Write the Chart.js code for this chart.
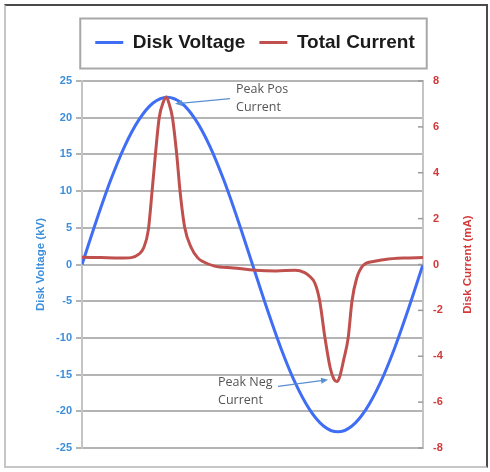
<!DOCTYPE html>
<html>
<head>
<meta charset="utf-8">
<script src="https://cdn.jsdelivr.net/npm/chart.js@4.4.0/dist/chart.umd.min.js"></script>
<style>
  html, body { margin: 0; padding: 0; background: #fff; }
  #frame {
    position: absolute; left: 4px; top: 4px; width: 480px; height: 460px;
    border-top: 2px solid #4a4a4a; border-right: 2px solid #4a4a4a;
    border-left: 2px solid #c6c6c6; border-bottom: 2px solid #c6c6c6;
  }
  #wrap { position: absolute; left: 0; top: 0; width: 490px; height: 472px; }
</style>
</head>
<body>
<div id="frame"></div>
<div id="wrap"><canvas id="myChart"></canvas></div>
<script>
// phase over one cycle (degrees) -> disk voltage (kV)
const phaseV = [0, 15, 30, 45, 60, 75, 90, 105, 120, 135, 150, 165, 180,
  195, 210, 225, 240, 255, 270, 285, 300, 315, 330, 345, 360];
const voltage = [0, 5.9, 11.4, 16.1, 19.7, 22.0, 22.8, 22.0, 19.7, 16.1, 11.4, 5.9, 0,
  -5.9, -11.4, -16.1, -19.7, -22.0, -22.8, -22.0, -19.7, -16.1, -11.4, -5.9, 0];

// phase (degrees) -> total current (mA)
const phaseI = [0, 20, 40, 52, 60, 65, 70, 74, 77.5, 81.5, 86, 89, 92, 95.5, 100, 103.5,
  108.5, 115.5, 122, 127, 140, 160, 183, 205, 225, 235, 239, 246, 251, 256.5, 262, 266,
  269, 272, 276, 281, 285, 290, 297, 309, 320, 340, 360];
const current = [0.32, 0.3, 0.28, 0.3, 0.45, 0.72, 1.5, 3.2, 4.8, 6.4, 7.1, 7.3, 7.0, 6.4, 4.8, 3.2,
  1.6, 0.72, 0.3, 0.14, -0.07, -0.15, -0.25, -0.28, -0.25, -0.35, -0.47, -0.83, -1.6, -3.2, -4.5, -5.0,
  -5.1, -4.9, -4.2, -3.2, -1.6, -0.6, -0.03, 0.14, 0.22, 0.28, 0.3];

const seriesNames = ['Disk Voltage', 'Total Current'];
const axisTitles = ['Disk Voltage (kV)', 'Disk Current (mA)'];

// callouts: text position and arrow tail/head, in (phase, kV)
const noteLines = [['Peak Pos', 'Current'], ['Peak Neg', 'Current']];
const noteAt = [[162.6, 23.8], [143.6, -16.0]];
const arrowFrom = [[156.3, 22.6], [207, -16.6]];
const arrowTo = [[98.2, 21.9], [259.8, -15.7]];

const BLUE = '#3f6ef4';
const RED = '#c0504d';
const AXIS_BLUE = '#3d8edb';
const AXIS_RED = '#d23a3a';
const GRID = '#b4b4b4';

// extra room under the legend, like the original
const legendGap = {
  id: 'legendGap',
  beforeInit(chart) {
    const lg = chart.legend;
    if (!lg) return;
    const fit = lg.fit;
    lg.fit = function () {
      fit.call(lg);
      this.height += 19;
    };
  }
};

const legendFrame = {
  id: 'legendFrame',
  afterDraw(chart) {
    const boxes = chart.legend.legendHitBoxes;
    if (!boxes || !boxes.length) return;
    const l = Math.min(...boxes.map(b => b.left));
    const r = Math.max(...boxes.map(b => b.left + b.width));
    const cy = boxes[0].top + boxes[0].height / 2;
    const ctx = chart.ctx;
    ctx.save();
    ctx.strokeStyle = '#a8a8a8';
    ctx.lineWidth = 2;
    ctx.strokeRect(l - 15, cy - 24, r - l + 27, 50);
    ctx.restore();
  }
};

const extras = {
  id: 'extras',
  afterDraw(chart) {
    const ctx = chart.ctx;
    const xs = chart.scales.x, yv = chart.scales.yV, yc = chart.scales.yC;
    ctx.save();
    // right axis title, reading upward
    ctx.fillStyle = AXIS_RED;
    ctx.font = 'bold 11.5px "Liberation Sans", Arial';
    ctx.textAlign = 'center';
    ctx.textBaseline = 'middle';
    ctx.translate(yc.right - 12, (yc.top + yc.bottom) / 2);
    ctx.rotate(-Math.PI / 2);
    ctx.fillText(axisTitles[1], 0, 0);
    ctx.restore();

    // small inward tick marks on the right axis
    ctx.save();
    ctx.strokeStyle = '#9a9a9a';
    ctx.lineWidth = 1.5;
    yc.ticks.forEach(t => {
      const y = yc.getPixelForValue(t.value);
      ctx.beginPath();
      ctx.moveTo(yc.left - 5, y);
      ctx.lineTo(yc.left, y);
      ctx.stroke();
    });
    ctx.restore();

    // callouts
    ctx.save();
    ctx.font = '12.5px "Open Sans", sans-serif';
    ctx.textAlign = 'left';
    ctx.textBaseline = 'middle';
    noteLines.forEach((lines, i) => {
      const x = xs.getPixelForValue(noteAt[i][0]);
      const y = yv.getPixelForValue(noteAt[i][1]);
      ctx.fillStyle = '#555';
      lines.forEach((t, k) => ctx.fillText(t, x, y + k * 18));

      const x0 = xs.getPixelForValue(arrowFrom[i][0]), y0 = yv.getPixelForValue(arrowFrom[i][1]);
      const x1 = xs.getPixelForValue(arrowTo[i][0]), y1 = yv.getPixelForValue(arrowTo[i][1]);
      const a = Math.atan2(y1 - y0, x1 - x0);
      ctx.strokeStyle = '#5a8fd0';
      ctx.fillStyle = '#5a8fd0';
      ctx.lineWidth = 1.2;
      ctx.beginPath();
      ctx.moveTo(x0, y0);
      ctx.lineTo(x1 - 5 * Math.cos(a), y1 - 5 * Math.sin(a));
      ctx.stroke();
      ctx.beginPath();
      ctx.moveTo(x1, y1);
      ctx.lineTo(x1 - 7 * Math.cos(a) + 3 * Math.sin(a), y1 - 7 * Math.sin(a) - 3 * Math.cos(a));
      ctx.lineTo(x1 - 7 * Math.cos(a) - 3 * Math.sin(a), y1 - 7 * Math.sin(a) + 3 * Math.cos(a));
      ctx.closePath();
      ctx.fill();
    });
    ctx.restore();
  }
};

const data = {
  datasets: [
    {
      label: seriesNames[0],
      data: phaseV.map((p, i) => ({ x: p, y: voltage[i] })),
      yAxisID: 'yV',
      borderColor: BLUE,
      backgroundColor: BLUE,
      borderWidth: 3,
      pointRadius: 0,
      cubicInterpolationMode: 'monotone',
      order: 1
    },
    {
      label: seriesNames[1],
      data: phaseI.map((p, i) => ({ x: p, y: current[i] })),
      yAxisID: 'yC',
      borderColor: RED,
      backgroundColor: RED,
      borderWidth: 3,
      pointRadius: 0,
      cubicInterpolationMode: 'monotone',
      order: 0
    }
  ]
};

new Chart(document.getElementById('myChart'), {
  type: 'line',
  data: data,
  plugins: [legendGap, legendFrame, extras],
  options: {
    responsive: true,
    maintainAspectRatio: false,
    animation: false,
    layout: { padding: { top: 19, left: 30, right: 10, bottom: 24 } },
    plugins: {
      tooltip: { enabled: false },
      legend: {
        position: 'top',
        labels: {
          usePointStyle: true,
          pointStyle: 'line',
          pointStyleWidth: 28,
          padding: 14,
          color: '#1b1b1b',
          font: { family: '"Liberation Sans", Arial', size: 19, weight: 'bold' },
          sort: (a, b) => a.datasetIndex - b.datasetIndex
        }
      }
    },
    scales: {
      x: { type: 'linear', min: 0, max: 360, display: false },
      yV: {
        type: 'linear',
        position: 'left',
        min: -25,
        max: 25,
        ticks: {
          stepSize: 5,
          color: AXIS_BLUE,
          padding: 4,
          font: { family: '"Liberation Sans", Arial', size: 11, weight: 'bold' }
        },
        grid: { color: GRID, lineWidth: 2, tickLength: 6, tickColor: GRID },
        border: { color: '#c4c4c4', width: 2 },
        title: {
          display: true,
          text: axisTitles[0],
          color: AXIS_BLUE,
          padding: { top: 4, bottom: 4 },
          font: { family: '"Liberation Sans", Arial', size: 11.5, weight: 'bold' }
        },
        afterFit(s) { s.width = 52; }
      },
      yC: {
        type: 'linear',
        position: 'right',
        min: -8,
        max: 8,
        ticks: {
          stepSize: 2,
          color: AXIS_RED,
          padding: 10,
          font: { family: '"Liberation Sans", Arial', size: 11, weight: 'bold' }
        },
        grid: { drawOnChartArea: false, drawTicks: false },
        border: { color: '#c4c4c4', width: 2 },
        afterFit(s) { s.width = 57; }
      }
    }
  }
});
</script>
</body>
</html>
